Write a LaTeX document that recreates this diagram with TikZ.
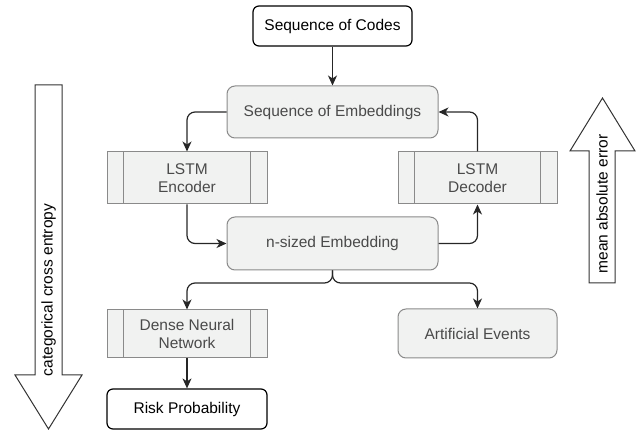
\documentclass[tikz,border=0pt]{standalone}
\usepackage{fontspec}
\setmainfont{Liberation Sans}
\usetikzlibrary{arrows.meta}
\definecolor{gfill}{HTML}{F1F2F1}
\definecolor{gline}{HTML}{8A8A8A}
\definecolor{gtext}{HTML}{4A4A4A}
\begin{document}
\begin{tikzpicture}[x=1pt,y=-1pt,
  every node/.style={font=\fontsize{15.5}{18}\selectfont, align=center, inner sep=0pt},
  whitebox/.style={draw=black, fill=white, line width=1.2pt, rounded corners=6pt, text=black},
  graybox/.style={draw=gline, fill=gfill, line width=1pt, rounded corners=8pt, text=gtext},
  procbox/.style={draw=gline, fill=gfill, line width=1pt, text=gtext},
  conn/.style={draw=black!85, line width=1.2pt, rounded corners=8pt, -{Stealth[length=10pt,width=9pt,inset=3pt]}},
  bigarrow/.style={draw=black!80, fill=white, line width=1pt}
]
\useasboundingbox (0,0) rectangle (638,430);

\node[whitebox, minimum width=159pt, minimum height=40pt] (codes) at (332.5,26) {Sequence of Codes};
\node[graybox, minimum width=211pt, minimum height=52pt] (semb) at (332.5,112) {Sequence of Embeddings};
\node[procbox, minimum width=160pt, minimum height=52pt] (enc) at (187,178) {LSTM\\Encoder};
\node[procbox, minimum width=159pt, minimum height=52pt] (dec) at (477.5,178) {LSTM\\Decoder};
\node[graybox, minimum width=211pt, minimum height=53pt] (nemb) at (332.5,243.5) {n-sized Embedding};
\node[procbox, minimum width=160pt, minimum height=48pt] (dense) at (187,334) {Dense Neural\\Network};
\node[graybox, minimum width=159pt, minimum height=49pt] (art) at (477.5,333.5) {Artificial Events};
\node[whitebox, minimum width=160pt, minimum height=40pt] (risk) at (187,409) {Risk Probability};

\foreach \n in {enc,dec,dense}{
  \draw[gline, line width=1pt] ([xshift=17pt]\n.north west) -- ([xshift=17pt]\n.south west);
  \draw[gline, line width=1pt] ([xshift=-17pt]\n.north east) -- ([xshift=-17pt]\n.south east);
}

\draw[conn] (codes.south) -- (semb.north);
\draw[conn] (semb.west) -| (enc.north);
\draw[conn] (enc.south) |- (nemb.west);
\draw[conn] (nemb.east) -| (dec.south);
\draw[conn] (dec.north) |- (semb.east);
\coordinate (split) at (332.5,283);
\draw[conn] (nemb.south) -- (split) -| (dense.north);
\draw[conn] (nemb.south) -- (split) -| (art.north);
\draw[conn] (dense.south) -- (risk.north);

% big arrows
\draw[bigarrow] (35,85) -- (62,85) -- (62,375) -- (82,375) -- (48.5,429) -- (15,375) -- (35,375) -- cycle;
\node[rotate=90, text=black] (cce) at (48.5,290) {categorical cross entropy};
\draw[bigarrow] (589,283) -- (615,283) -- (615,151) -- (635,151) -- (602.5,98) -- (570,151) -- (589,151) -- cycle;
\node[rotate=90, text=black] (mae) at (602,204) {mean absolute error};
\end{tikzpicture}
\end{document}
